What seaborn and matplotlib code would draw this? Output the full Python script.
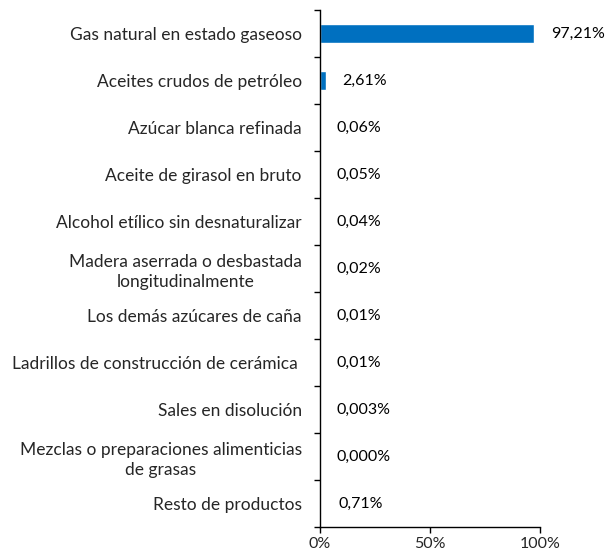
import pandas as pd
import matplotlib.pyplot as plt
import seaborn as sns

# Data
productos = [
    "Gas natural en estado gaseoso",
    "Aceites crudos de petróleo",
    "Azúcar blanca refinada",
    "Aceite de girasol en bruto",
    "Alcohol etílico sin desnaturalizar",
    "Madera aserrada o desbastada\nlongitudinalmente",
    "Los demás azúcares de caña",
    "Ladrillos de construcción de cerámica ",
    "Sales en disolución",
    "Mezclas o preparaciones alimenticias\nde grasas",
    "Resto de productos",
]
participacion = [97.21, 2.61, 0.06, 0.05, 0.04, 0.02, 0.01, 0.01, 0.003, 0.0, 0.71]
etiquetas = ["97,21%", "2,61%", "0,06%", "0,05%", "0,04%", "0,02%", "0,01%",
             "0,01%", "0,003%", "0,000%", "0,71%"]

df = pd.DataFrame({"Producto": productos, "Participacion": participacion})

sns.set_theme(style="ticks")
plt.rcParams["font.family"] = ["Lato", "DejaVu Sans"]

fig = plt.figure(figsize=(6.07, 5.57), dpi=100)
ax = fig.add_axes([0.527, 0.054, 0.363, 0.928])

sns.barplot(
    data=df,
    x="Participacion",
    y="Producto",
    orient="h",
    color="#0070C0",
    saturation=1,
    width=0.4,
    ax=ax,
)

# value labels next to bars
for i, (v, t) in enumerate(zip(participacion, etiquetas)):
    ax.annotate(t, (v, i), xytext=(12, 0), textcoords="offset points",
                va="center", ha="left", fontsize=11.5, color="black")

ax.set_xlim(0, 100)
ax.set_ylim(len(productos) - 0.5, -0.5)
ax.set_xticks([0, 50, 100])
ax.set_xticklabels(["0%", "50%", "100%"])

# tick marks between categories, labels centred on them
ax.set_yticks([i - 0.5 for i in range(len(productos) + 1)], minor=False)
ax.set_yticklabels([])
ax.set_yticks(range(len(productos)), minor=True)
ax.set_yticklabels(productos, minor=True)
ax.tick_params(axis="y", which="major", length=4, width=1, color="black")
ax.tick_params(axis="y", which="minor", length=0, pad=13, labelsize=12.5)
for lab in ax.get_yticklabels(minor=True):
    lab.set_multialignment("center")
    lab.set_linespacing(1.3)
ax.tick_params(axis="x", length=4, width=1, color="black", labelsize=11.5, pad=3)

ax.set_xlabel("")
ax.set_ylabel("")
sns.despine(ax=ax)
for s in ["left", "bottom"]:
    ax.spines[s].set_color("black")
    ax.spines[s].set_linewidth(1)

plt.savefig("out.png", dpi=100)
